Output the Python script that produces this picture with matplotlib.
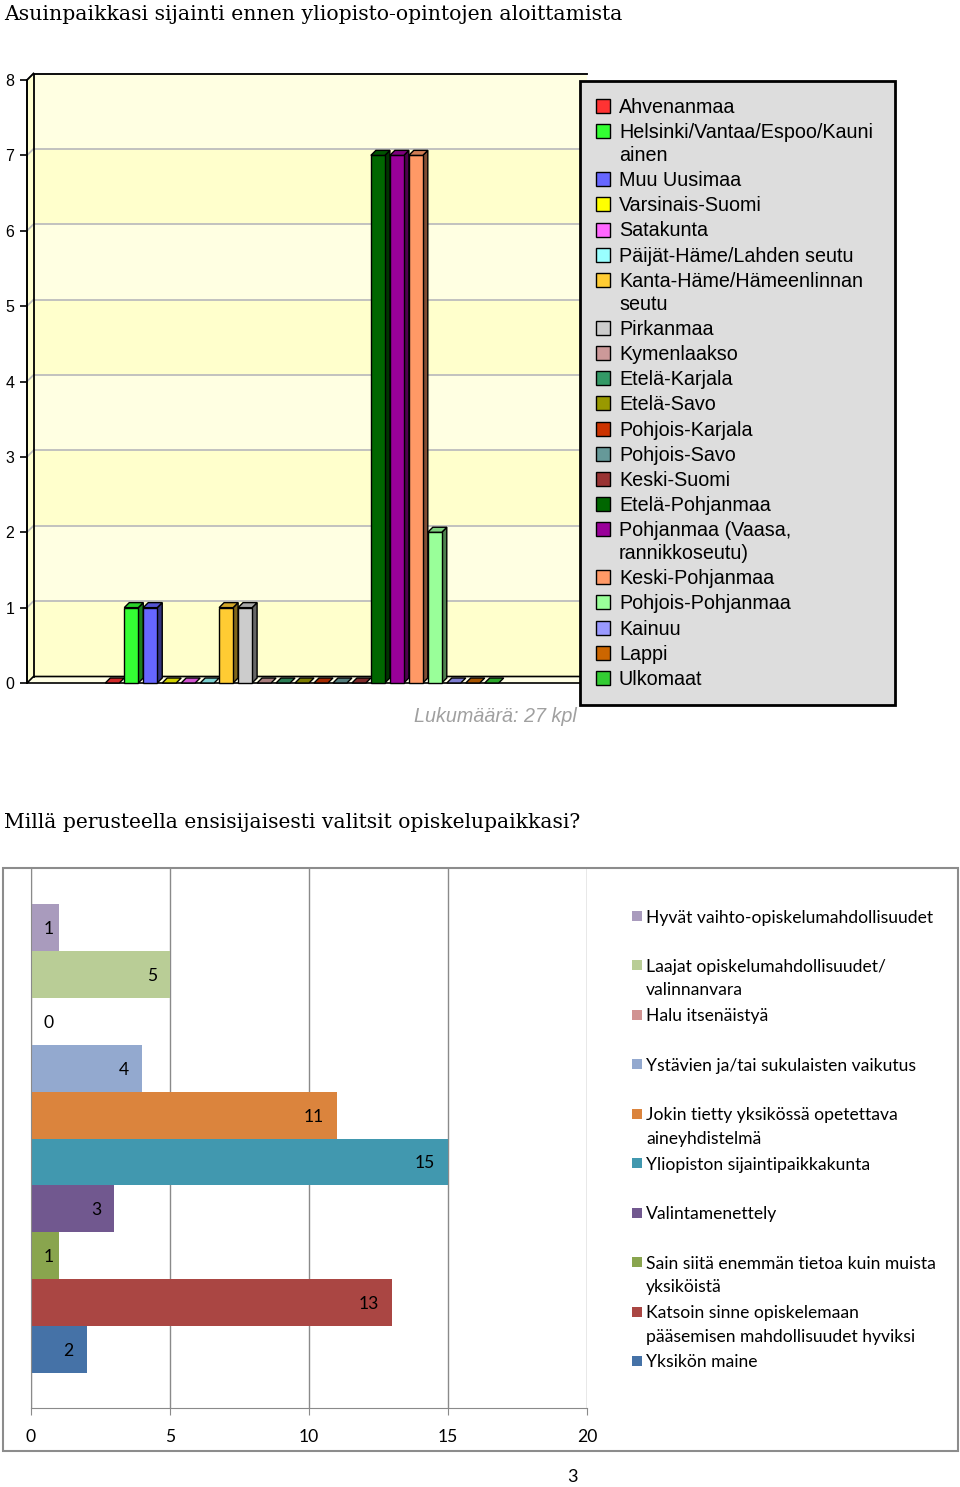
import numpy as np
import matplotlib
matplotlib.use("Agg")
import matplotlib.pyplot as plt
from matplotlib.patches import Polygon, Rectangle
from matplotlib import colors as mcolors

W, H = 960, 1487

# --- chart 1: asuinpaikka ennen opintoja
title1 = "Asuinpaikkasi sijainti ennen yliopisto-opintojen aloittamista"
regions = ["Ahvenanmaa", "Helsinki/Vantaa/Espoo/Kauni\nainen", "Muu Uusimaa",
           "Varsinais-Suomi", "Satakunta", "Päijät-Häme/Lahden seutu",
           "Kanta-Häme/Hämeenlinnan\nseutu", "Pirkanmaa", "Kymenlaakso",
           "Etelä-Karjala", "Etelä-Savo", "Pohjois-Karjala", "Pohjois-Savo",
           "Keski-Suomi", "Etelä-Pohjanmaa", "Pohjanmaa (Vaasa,\nrannikkoseutu)",
           "Keski-Pohjanmaa", "Pohjois-Pohjanmaa", "Kainuu", "Lappi", "Ulkomaat"]
counts = [0, 1, 1, 0, 0, 0, 1, 1, 0, 0, 0, 0, 0, 0, 7, 7, 7, 2, 0, 0, 0]
region_colors = ["#FF3333", "#33FF33", "#6666FF", "#FFFF00", "#FF66FF", "#99FFFF",
                 "#FFCC33", "#CCCCCC", "#CC9999", "#339966", "#999900", "#CC3300",
                 "#669999", "#993333", "#006600", "#990099", "#FF9966", "#99FF99",
                 "#9999FF", "#CC6600", "#33CC33"]
y1_ticks = [0, 1, 2, 3, 4, 5, 6, 7, 8]

# --- chart 2: valintaperuste
title2 = "Millä perusteella ensisijaisesti valitsit opiskelupaikkasi?"
reasons = ["Hyvät vaihto-opiskelumahdollisuudet",
           "Laajat opiskelumahdollisuudet/\nvalinnanvara",
           "Halu itsenäistyä",
           "Ystävien ja/tai sukulaisten vaikutus",
           "Jokin tietty yksikössä opetettava\naineyhdistelmä",
           "Yliopiston sijaintipaikkakunta",
           "Valintamenettely",
           "Sain siitä enemmän tietoa kuin muista\nyksiköistä",
           "Katsoin sinne opiskelemaan\npääsemisen mahdollisuudet hyviksi",
           "Yksikön maine"]
reason_counts = [1, 5, 0, 4, 11, 15, 3, 1, 13, 2]
reason_colors = ["#A99BBD", "#B9CD96", "#D19392", "#93A9CF", "#DB843D",
                 "#4198AF", "#71588F", "#89A54E", "#AA4643", "#4572A7"]
x2_ticks = [0, 5, 10, 15, 20]
page_no = "3"

fig = plt.figure(figsize=(W / 100, H / 100), dpi=100)
fig.patch.set_facecolor("white")


def px_axes(left, top, right, bottom):
    return fig.add_axes([left / W, 1 - bottom / H, (right - left) / W, (bottom - top) / H])


def shade(c, f):
    r, g, b = mcolors.to_rgb(c)
    return (r * f, g * f, b * f)


# ---------------- chart 1 (pseudo 3D columns) ----------------
ax1 = px_axes(27, 80, 581, 683)
step = 18.97                       # px per category
ppu = (683 - 80) / 8.0             # px per value unit
x0pix = 112.3
xmin, xmax = (27 - x0pix) / step, (581 - x0pix) / step
ax1.set_xlim(xmin, xmax)
ax1.set_ylim(0, 8)
ax1.patch.set_visible(False)
dxw, dyw = 6.5 / step, 6.5 / ppu
dxb, dyb = 5.0 / step, 5.0 / ppu
bw = 14.0 / step

# back wall bands
for k in range(8):
    col = "#FFFFCC" if k % 2 == 0 else "#FFFFE2"
    ax1.add_patch(Rectangle((xmin + dxw, k + dyw), xmax - xmin, 1, fc=col, ec="none",
                            clip_on=False, zorder=0))
# left wall
ax1.add_patch(Polygon([(xmin, 0), (xmin + dxw, dyw), (xmin + dxw, 8 + dyw), (xmin, 8)],
                      closed=True, fc="#FFFFD0", ec="none", clip_on=False, zorder=0))
# gridlines
for k in y1_ticks[1:]:
    ax1.plot([xmin + dxw, xmax + dxw], [k + dyw, k + dyw], color="#BDBDBD", lw=1.3,
             clip_on=False, zorder=1)
    ax1.plot([xmin, xmin + dxw], [k, k + dyw], color="#BDBDBD", lw=1.3, clip_on=False, zorder=1)
# floor
ax1.add_patch(Polygon([(xmin, 0), (xmax, 0), (xmax + dxw, dyw), (xmin + dxw, dyw)],
                      closed=True, fc="#FFFFE6", ec="black", lw=1.2, clip_on=False, zorder=2))
# wall outlines
ax1.plot([xmin + dxw, xmin + dxw, xmax + dxw], [dyw, 8 + dyw, 8 + dyw], color="black",
         lw=1.3, clip_on=False, zorder=2)
ax1.plot([xmin, xmin + dxw], [8, 8 + dyw], color="black", lw=1.3, clip_on=False, zorder=2)

# bars
for i, (v, c) in enumerate(zip(counts, region_colors)):
    xl = i - bw / 2
    xr = i + bw / 2
    if v > 0:
        ax1.add_patch(Polygon([(xr, 0), (xr + dxb, dyb), (xr + dxb, v + dyb), (xr, v)],
                              closed=True, fc=shade(c, 0.5), ec="black", lw=1,
                              clip_on=False, zorder=3))
        ax1.add_patch(Rectangle((xl, 0), bw, v, fc=c, ec="black", lw=1, clip_on=False, zorder=3))
    ax1.add_patch(Polygon([(xl, v), (xr, v), (xr + dxb, v + dyb), (xl + dxb, v + dyb)],
                          closed=True, fc=shade(c, 0.82), ec="black", lw=1,
                          clip_on=False, zorder=3))

for s in ["top", "right", "bottom"]:
    ax1.spines[s].set_visible(False)
ax1.spines["left"].set_linewidth(1.4)
ax1.set_xticks([])
ax1.set_yticks(y1_ticks)
ax1.tick_params(axis="y", direction="out", length=5, width=1.2, pad=4, labelsize=11.5)
for t in ax1.get_yticklabels():
    t.set_family("Liberation Sans")

# ---------------- chart 2 (horizontal bars) ----------------
ax2 = px_axes(31, 868, 587, 1408)
n = len(reasons)
ypos = np.arange(n)[::-1]
upx = (1373 - 904) / n
ax2.set_xlim(0, 20)
ax2.set_ylim(-0.5 - (1408 - 1373) / upx, n - 0.5 + (904 - 868) / upx)
ax2.barh(ypos, reason_counts, height=1.0, color=reason_colors, zorder=2)
ax2.set_xticks(x2_ticks)
ax2.set_yticks([])
ax2.grid(axis="x", color="#8A8A8A", lw=1)
ax2.set_axisbelow(True)
for s in ["top", "right"]:
    ax2.spines[s].set_visible(False)
for s in ["left", "bottom"]:
    ax2.spines[s].set_color("#8A8A8A")
ax2.tick_params(axis="x", direction="out", length=5, color="#8A8A8A", pad=10, labelsize=12.6)
for t in ax2.get_xticklabels():
    t.set_family("Lato")
for y, v in zip(ypos, reason_counts):
    if v * 27.8 < 30:
        ax2.annotate(str(v), xy=(0, y), xytext=(13, -1.5), textcoords="offset pixels",
                     ha="left", va="center", fontsize=12.6, family="Lato", zorder=3)
    else:
        ax2.annotate(str(v), xy=(v, y), xytext=(-13, -1.5), textcoords="offset pixels",
                     ha="right", va="center", fontsize=12.6, family="Lato", zorder=3)

# ---------------- overlay: titles, legends, frames ----------------
ov = fig.add_axes([0, 0, 1, 1])
ov.set_xlim(0, W)
ov.set_ylim(H, 0)
ov.axis("off")
ov.patch.set_visible(False)
ov.set_zorder(5)

ov.text(4, 14, title1, family="DejaVu Serif", fontsize=14.7, va="center", ha="left")
ov.text(4, 823, title2, family="DejaVu Serif", fontsize=14.6, va="center", ha="left")

# legend chart 1
ov.add_patch(Rectangle((580, 81), 315, 624, fc="#DDDDDD", ec="black", lw=2))
y = 106
for lab, c in zip(regions, region_colors):
    lines = lab.split("\n")
    ov.add_patch(Rectangle((596, y - 7), 14, 14, fc=c, ec="black", lw=1))
    for j, ln in enumerate(lines):
        ov.text(619, y + 1.5 + j * 22.7, ln, family="Liberation Sans", fontsize=14.2,
                va="center", ha="left")
    y += (len(lines) - 1) * 22.7 + 25.2

ov.text(577, 717, "Lukumäärä: %d kpl" % sum(counts), family="Liberation Sans",
        style="italic", fontsize=14.2, color="#A0A0A0", va="center", ha="right")

# chart 2 frame and legend
ov.add_patch(Rectangle((3, 868), 955, 583, fill=False, ec="#8C8C8C", lw=1.5))
for k, (lab, c) in enumerate(zip(reasons, reason_colors)):
    yy = 916 + k * 49.44
    ov.add_patch(Rectangle((632, yy - 5), 10, 10, fc=c, ec="none"))
    for j, ln in enumerate(lab.split("\n")):
        ov.text(646, yy + 1.5 + j * 23.5, ln, family="Lato", fontsize=12.6,
                va="center", ha="left")

ov.text(572, 1477, page_no, family="Lato", fontsize=13, va="center", ha="center")

fig.savefig("out.png", dpi=100)
